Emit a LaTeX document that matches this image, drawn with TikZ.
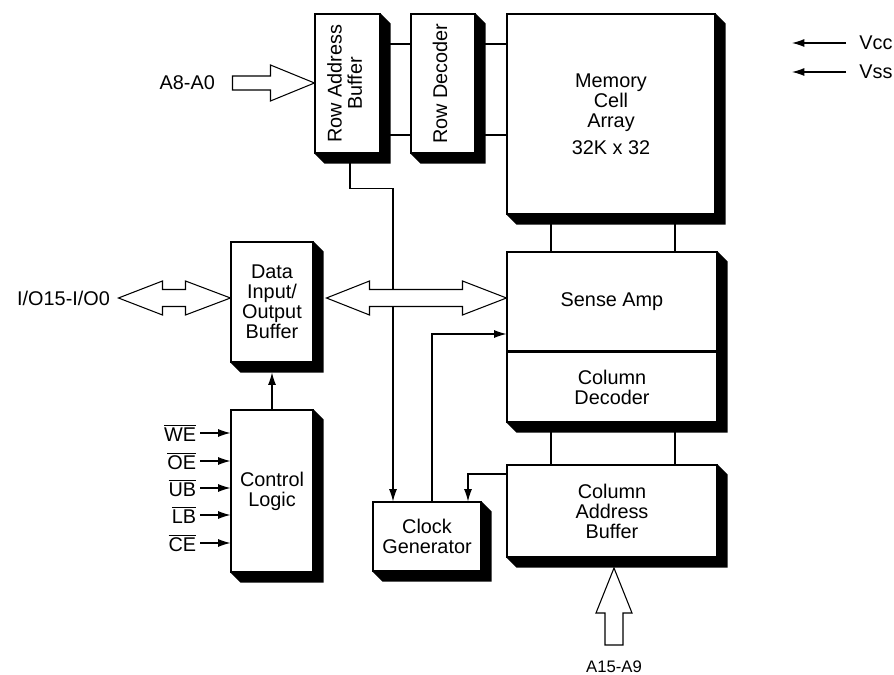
\documentclass[tikz,border=0pt]{standalone}
\usepackage{fontspec}
\usepackage{graphicx}
\setmainfont{Liberation Sans}
\usetikzlibrary{arrows.meta,calc}

\tikzset{
  blk/.style={draw, fill=white, line width=0.6pt, align=center, inner sep=0pt,
              font=\fontsize{11.3}{11.4}\selectfont},
  lbl/.style={font=\fontsize{11.3}{11.4}\selectfont, inner sep=1pt},
  wire/.style={line width=0.6pt},
  arrow/.style={wire, -{Latex[length=7pt,width=4.5pt]}},
  fat/.style={draw, fill=white, line width=0.6pt, line join=miter}
}
% black drop shadow below / right of a box (or a stack of two boxes)
\newcommand{\boxshade}[2]{%
  \fill (#1.north east) -- ++(10,10) -- ($(#2.south east)+(10,10)$)
    -- ($(#2.south west)+(10,10)$) -- (#2.south west) -- (#2.south east) -- cycle;}
\newcommand{\vtext}[1]{\rotatebox{90}{\begin{tabular}{@{}c@{}}#1\end{tabular}}}
\newcommand{\ovl}[1]{$\overline{\hbox{#1}}$}

\begin{document}
\begin{tikzpicture}[x=0.02cm, y=-0.02cm]
\useasboundingbox (0,0) rectangle (894,675);

% blocks
\node[blk, minimum width=1.30cm, minimum height=2.78cm] (rab) at (347.5,83.5) {\vtext{Row Address\\Buffer}};
\node[blk, minimum width=1.28cm, minimum height=2.78cm] (rdec) at (443,83.5) {\vtext{Row Decoder}};
\node[blk, minimum width=4.16cm, minimum height=4.00cm] (mca) at (611,114) {Memory\\Cell\\Array\\[4pt]32K x 32};
\node[blk, minimum width=1.64cm, minimum height=2.40cm] (dio) at (272,302) {Data\\Input/\\Output\\Buffer};
\node[blk, minimum width=4.20cm, minimum height=1.98cm] (samp) at (612,301.5) {Sense Amp};
\node[blk, minimum width=4.20cm, minimum height=1.40cm, anchor=north] (cdec) at (samp.south) {Column\\Decoder};
\node[blk, minimum width=4.20cm, minimum height=1.84cm] (cab) at (612,511) {Column\\Address\\Buffer};
\node[blk, minimum width=2.16cm, minimum height=1.38cm] (clk) at (427,536.5) {Clock\\Generator};
\node[blk, minimum width=1.64cm, minimum height=3.24cm] (ctl) at (272,491) {Control\\Logic};

% labels
\node[lbl, anchor=east] (a8) at (217,83) {A8-A0};
\node[lbl, anchor=east] (io) at (112,298) {I/O15-I/O0};
\node[font=\fontsize{9.5}{10}\selectfont] (a15) at (614,667) {A15-A9};
\node[lbl, anchor=west, inner sep=0pt] (vcc) at (859,43) {Vcc};
\node[lbl, anchor=west, inner sep=0pt] (vss) at (859,72) {Vss};
\coordinate (vcctip) at (792,43);
\coordinate (vsstip) at (792,72);

% connections
\foreach \y in {44,135} {
  \draw[wire] (rab.east |- 0,\y) -- (rdec.west |- 0,\y);
  \draw[wire] (rdec.east |- 0,\y) -- (mca.west |- 0,\y);
}
\foreach \x in {551,675} {
  \draw[wire] (mca.south -| \x,0) -- (samp.north -| \x,0);
  \draw[wire] (cdec.south -| \x,0) -- (cab.north -| \x,0);
}
\draw[arrow] (rab.south -| 350,0) -- ++(0,35) -| (clk.north -| 393,0);
\draw[arrow] (clk.north -| 432,0) |- (samp.west |- 0,334);
\draw[arrow] (cab.west |- 0,474) -| (clk.north -| 468,0);
\draw[arrow] (ctl.north) -- ($(dio.south)+(0,10)$);
\foreach \s/\y in {WE/433, OE/461, UB/488, LB/515, CE/543} {
  \node[lbl, anchor=east, inner sep=2pt] (sig\s) at (200,\y) {\ovl{\s}};
  \draw[arrow] (sig\s.east) -- (ctl.west |- sig\s.east);
}
\draw[arrow, shorten <=0.26cm] (vcc.west) -- (vcctip);
\draw[arrow, shorten <=0.26cm] (vss.west) -- (vsstip);

% shadows
\boxshade{rab}{rab}
\boxshade{rdec}{rdec}
\boxshade{mca}{mca}
\boxshade{dio}{dio}
\boxshade{samp}{cdec}
\boxshade{cab}{cab}
\boxshade{clk}{clk}
\boxshade{ctl}{ctl}

% bus arrows
\coordinate (rowin) at (rab.west |- 0,83);
\draw[fat] (rowin) -- ++(-44,-18) -- ++(0,11) -- ++(-38,0) -- ++(0,14) -- ++(38,0) -- ++(0,11) -- cycle;
\coordinate (ioin) at (dio.west |- 0,298);
\draw[fat] (ioin) -- ++(-45,-17) -- ++(0,8.5) -- ++(-23,0) -- ++(0,-8.5) -- ++(-44,17)
  -- ++(44,17) -- ++(0,-8.5) -- ++(23,0) -- ++(0,8.5) -- cycle;
\coordinate (busin) at (samp.west |- 0,298);
\draw[fat] (busin) -- ++(-44,-17) -- ++(0,8.5) -- ++(-93,0) -- ++(0,-8.5) -- ++(-43,17)
  -- ++(43,17) -- ++(0,-8.5) -- ++(93,0) -- ++(0,8.5) -- cycle;
\coordinate (colin) at (614,568);
\draw[fat] (colin) -- ++(18,45) -- ++(-9,0) -- ++(0,32) -- ++(-18,0) -- ++(0,-32) -- ++(-9,0) -- cycle;
\end{tikzpicture}
\end{document}
